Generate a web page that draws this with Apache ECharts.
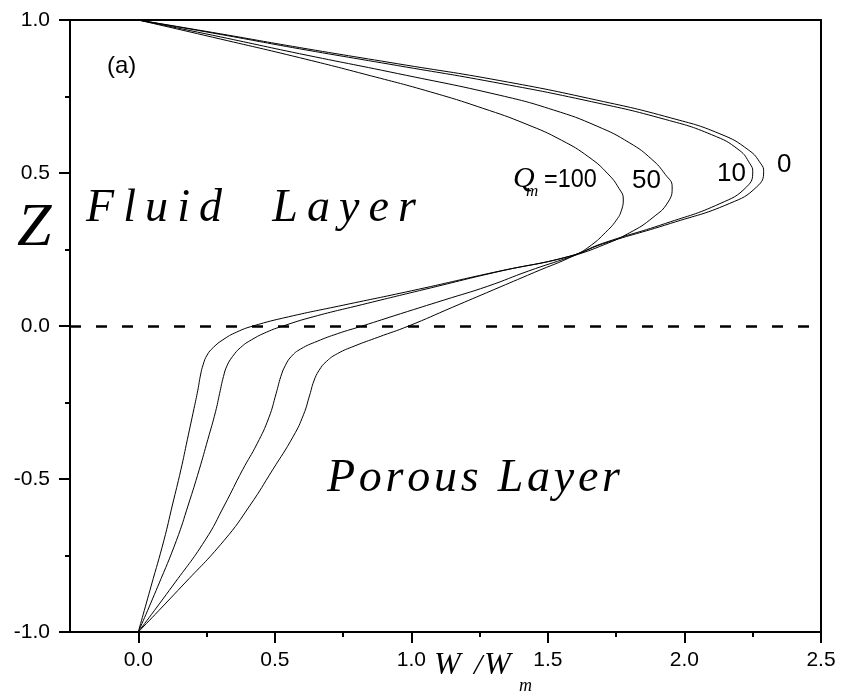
<!DOCTYPE html>
<html>
<head>
<meta charset="utf-8">
<script src="https://cdn.jsdelivr.net/npm/echarts@6/dist/echarts.min.js"></script>
<style>
  html, body { margin: 0; padding: 0; background: #fff; }
  #main { width: 841px; height: 694px; }
</style>
</head>
<body>
<div id="main"></div>
<script>
// velocity profiles W/Wm against z for Q_m = 0, 10, 50, 100
const wQ0 = [0, 0.30, 0.59, 0.95, 1.324, 1.68, 1.95, 2.13, 2.235, 2.28, 2.29, 2.265, 2.164, 1.948, 1.70, 1.58, 1.30, 1.00, 0.75, 0.55, 0.42, 0.36, 0.31, 0.275, 0.252, 0.238, 0.228, 0.218, 0.204, 0.18, 0.156, 0.125, 0.094, 0.047, 0];
const zQ0 = [1, 0.955, 0.91, 0.857, 0.802, 0.738, 0.68, 0.628, 0.575, 0.53, 0.505, 0.455, 0.40, 0.335, 0.268, 0.228, 0.175, 0.115, 0.068, 0.03, 0, -0.02, -0.045, -0.07, -0.095, -0.125, -0.16, -0.21, -0.27, -0.37, -0.47, -0.585, -0.70, -0.85, -1];

const wQ10 = [0, 0.30, 0.59, 0.95, 1.30, 1.66, 1.93, 2.10, 2.20, 2.24, 2.25, 2.228, 2.13, 1.93, 1.70, 1.58, 1.33, 1.05, 0.82, 0.64, 0.53, 0.47, 0.415, 0.375, 0.345, 0.325, 0.312, 0.298, 0.283, 0.255, 0.223, 0.183, 0.14, 0.072, 0];
const zQ10 = [1, 0.953, 0.906, 0.851, 0.797, 0.733, 0.675, 0.625, 0.575, 0.53, 0.505, 0.455, 0.40, 0.335, 0.27, 0.228, 0.18, 0.12, 0.07, 0.03, 0, -0.02, -0.045, -0.07, -0.1, -0.13, -0.165, -0.22, -0.28, -0.37, -0.47, -0.585, -0.70, -0.85, -1];

const wQ50 = [0, 0.30, 0.59, 0.95, 1.324, 1.52, 1.68, 1.80, 1.88, 1.93, 1.955, 1.94, 1.885, 1.80, 1.69, 1.58, 1.43, 1.28, 1.12, 0.96, 0.82, 0.73, 0.655, 0.595, 0.56, 0.538, 0.522, 0.505, 0.478, 0.435, 0.382, 0.316, 0.245, 0.125, 0];
const zQ50 = [1, 0.945, 0.89, 0.825, 0.754, 0.706, 0.653, 0.598, 0.545, 0.495, 0.455, 0.405, 0.355, 0.305, 0.26, 0.225, 0.18, 0.13, 0.085, 0.04, 0, -0.025, -0.05, -0.075, -0.1, -0.13, -0.165, -0.22, -0.30, -0.385, -0.47, -0.585, -0.70, -0.85, -1];

const wQ100 = [0, 0.30, 0.59, 0.85, 1.07, 1.26, 1.42, 1.55, 1.65, 1.72, 1.76, 1.776, 1.77, 1.75, 1.71, 1.66, 1.60, 1.45, 1.30, 1.15, 0.99, 0.88, 0.79, 0.73, 0.69, 0.662, 0.643, 0.628, 0.605, 0.568, 0.492, 0.41, 0.315, 0.16, 0];
const zQ100 = [1, 0.938, 0.877, 0.818, 0.765, 0.712, 0.66, 0.607, 0.552, 0.497, 0.45, 0.415, 0.38, 0.345, 0.305, 0.265, 0.232, 0.175, 0.118, 0.061, 0, -0.036, -0.066, -0.09, -0.115, -0.145, -0.18, -0.225, -0.29, -0.36, -0.47, -0.585, -0.70, -0.85, -1];

const xMajorTicks = [0, 0.5, 1.0, 1.5, 2.0, 2.5];
const xMinorTicks = [0.25, 0.75, 1.25, 1.75, 2.25];

const pair = (w, z) => w.map((v, i) => [v, z[i]]);

var chartDom = document.getElementById('main');
var myChart = echarts.init(chartDom);

const SANS = 'Liberation Sans, Arial, sans-serif';
const SERIF = 'Liberation Serif, Times New Roman, serif';

function label(text, x, baseline, font, size, extra) {
  return Object.assign({
    type: 'text', x: x, y: baseline - size * 0.35, silent: true,
    style: { text: text, font: font, fill: '#000', verticalAlign: 'middle', align: 'left' }
  }, extra || {});
}

// letters placed one by one so the spaced-out italic labels keep their width
const measureCtx = document.createElement('canvas').getContext('2d');
function spacedText(text, x, baseline, size, targetWidth) {
  const font = 'italic ' + size + 'px ' + SERIF;
  measureCtx.font = font;
  const chars = Array.from(text);
  const widths = chars.map(c => measureCtx.measureText(c).width);
  const natural = widths.reduce((a, b) => a + b, 0);
  const gap = (targetWidth - natural) / (chars.length - 1);
  const out = [];
  let cx = x;
  chars.forEach((c, i) => {
    if (c !== ' ') out.push(label(c, cx, baseline, font, size));
    cx += widths[i] + gap;
  });
  return out;
}

const lineSeries = (name, data) => ({
  name: name,
  type: 'line',
  data: data,
  showSymbol: false,
  smooth: 0.5,
  lineStyle: { color: '#000', width: 1 },
  xAxisIndex: 0,
  yAxisIndex: 0,
  z: 3
});

var option = {
  backgroundColor: '#fff',
  animation: false,
  grid: { left: 70, right: 20, top: 20, bottom: 62 },
  xAxis: [
    {
      type: 'value', position: 'bottom', min: -0.25, max: 2.5,
      axisLine: { show: true, onZero: false, lineStyle: { color: '#000', width: 2 } },
      axisTick: { show: true, customValues: xMajorTicks, length: 11, lineStyle: { color: '#000', width: 2 } },
      axisLabel: {
        customValues: xMajorTicks, margin: 18, fontSize: 21, color: '#000', fontFamily: SANS,
        formatter: v => v.toFixed(1)
      },
      splitLine: { show: false }
    },
    {
      type: 'value', position: 'bottom', min: -0.25, max: 2.5,
      axisLine: { show: false, onZero: false },
      axisTick: { show: true, customValues: xMinorTicks, length: 5, lineStyle: { color: '#000', width: 2 } },
      axisLabel: { show: false },
      splitLine: { show: false }
    },
    {
      type: 'value', position: 'top', min: -0.25, max: 2.5,
      axisLine: { show: true, onZero: false, lineStyle: { color: '#000', width: 2 } },
      axisTick: { show: false },
      axisLabel: { show: false },
      splitLine: { show: false }
    }
  ],
  yAxis: [
    {
      type: 'value', position: 'left', min: -1, max: 1, interval: 0.5,
      axisLine: { show: true, onZero: false, lineStyle: { color: '#000', width: 2 } },
      axisTick: { show: true, length: 11, lineStyle: { color: '#000', width: 2 } },
      minorTick: { show: true, splitNumber: 2, length: 5, lineStyle: { color: '#000', width: 2 } },
      axisLabel: { margin: 20, fontSize: 21, color: '#000', fontFamily: SANS, formatter: v => v.toFixed(1) },
      splitLine: { show: false }
    },
    {
      type: 'value', position: 'right', min: -1, max: 1,
      axisLine: { show: true, onZero: false, lineStyle: { color: '#000', width: 2 } },
      axisTick: { show: false },
      axisLabel: { show: false },
      splitLine: { show: false }
    }
  ],
  series: [
    Object.assign(lineSeries('Qm=0', pair(wQ0, zQ0)), {
      markLine: {
        silent: true,
        symbol: ['none', 'none'],
        label: { show: false },
        lineStyle: { color: '#000', width: 2.6, type: [11, 15] },
        data: [{ yAxis: 0 }]
      }
    }),
    lineSeries('Qm=10', pair(wQ10, zQ10)),
    lineSeries('Qm=50', pair(wQ50, zQ50)),
    lineSeries('Qm=100', pair(wQ100, zQ100))
  ],
  graphic: [
    label('(a)', 107, 75, '24px ' + SANS, 24),
    ...spacedText('Fluid  Layer', 86, 225, 46, 330),
    ...spacedText('Porous Layer', 327, 495, 46, 293),
    label('Z', 17, 250, 'italic 62px ' + SERIF, 62),
    label('Q', 513, 190, 'italic 30px ' + SERIF, 30),
    label('m', 526, 197, 'italic 17px ' + SERIF, 17),
    label('=100', 0, 189, '26px ' + SANS, 26, { x: 544, scaleX: 0.9 }),
    label('50', 632, 190, '26px ' + SANS, 26),
    label('10', 717, 183, '26px ' + SANS, 26),
    label('0', 777, 174, '26px ' + SANS, 26),
    label('W', 434, 677, 'italic 32px ' + SERIF, 32),
    label('/', 474, 677, 'italic 30px ' + SERIF, 30),
    label('W', 484, 677, 'italic 32px ' + SERIF, 32),
    label('m', 519, 693, 'italic 18px ' + SERIF, 18)
  ]
};

option && myChart.setOption(option);
window.addEventListener('resize', () => {
  myChart.resize();
});
</script>
</body>
</html>
